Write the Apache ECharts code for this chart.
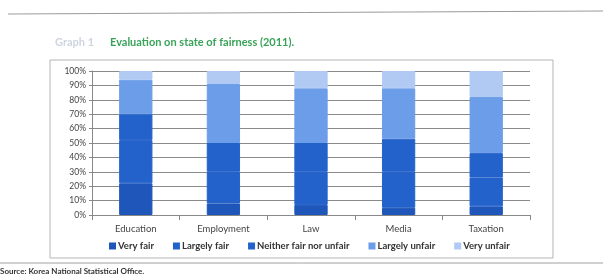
<!DOCTYPE html>
<html>
<head>
<meta charset="utf-8">
<script src="https://cdn.jsdelivr.net/npm/echarts@6/dist/echarts.min.js"></script>
<style>
  html, body { margin: 0; padding: 0; background: #fff; }
  #main { width: 603px; height: 278px; }
</style>
</head>
<body>
<div id="main"></div>
<script>
// categories and shares (%)
var categories = ['Education', 'Employment', 'Law', 'Media', 'Taxation'];
var veryFair = [22, 8, 7, 5, 6];
var largelyFair = [30, 22, 23, 25, 20];
var neither = [18, 20, 20, 23, 17];
var largelyUnfair = [24, 41, 38, 35, 39];
var veryUnfair = [6, 9, 12, 12, 18];
var yTicks = [0, 10, 20, 30, 40, 50, 60, 70, 80, 90, 100];

var chartDom = document.getElementById('main');
var myChart = echarts.init(chartDom);

function bar(name, data, color) {
  return {
    name: name,
    type: 'bar',
    stack: 'all',
    barWidth: '38%',
    data: data,
    itemStyle: { color: color, borderColor: color, borderWidth: 1 }
  };
}

var option = {
  animation: false,
  textStyle: { fontFamily: 'Lato' },
  graphic: [
    // page rule at the top
    { type: 'line', shape: { x1: 8, y1: 14, x2: 603, y2: 11 }, style: { stroke: '#9a9a9a', lineWidth: 1 } },
    // chart frame
    { type: 'rect', shape: { x: 50, y: 60, width: 503, height: 198 }, style: { fill: 'none', stroke: '#b5b5b5', lineWidth: 1 } },
    // bottom rule
    { type: 'line', shape: { x1: 0, y1: 263, x2: 603, y2: 263 }, style: { stroke: '#a0a0a0', lineWidth: 1 } },
    { type: 'text', left: 55, top: 37, style: { text: 'Graph 1', fill: '#cdd5e0', font: 'bold 11px Lato' } },
    { type: 'text', left: 110, top: 37, style: { text: 'Evaluation on state of fairness (2011).', fill: '#3aa35a', font: 'bold 11px Lato' } },
    { type: 'text', left: 0, top: 267, style: { text: 'Source: Korea National Statistical Office.', fill: '#333', font: 'bold 8px Lato' } }
  ],
  legend: {
    bottom: 22,
    left: 104,
    itemWidth: 5,
    itemHeight: 5,
    itemGap: 19,
    icon: 'rect',
    textStyle: { fontSize: 9.5, fontWeight: 'bold', color: '#333', fontFamily: 'Lato', padding: [0, 0, 0, -2] }
  },
  grid: { left: 92, right: 73, top: 71, bottom: 63 },
  xAxis: {
    type: 'category',
    data: categories,
    axisLine: { lineStyle: { color: '#888' } },
    axisTick: { show: true, alignWithLabel: false, lineStyle: { color: '#888' } },
    axisLabel: { color: '#444', fontSize: 9.5, margin: 9 }
  },
  yAxis: {
    type: 'value',
    min: yTicks[0],
    max: yTicks[yTicks.length - 1],
    interval: 10,
    axisLine: { show: true, lineStyle: { color: '#888' } },
    axisTick: { show: true, length: 3, lineStyle: { color: '#888' } },
    splitLine: { lineStyle: { color: '#8a8a8a' } },
    axisLabel: { color: '#444', fontSize: 8.5, margin: 6, formatter: '{value}%' }
  },
  series: [
    bar('Very fair', veryFair, '#1f56ba'),
    bar('Largely fair', largelyFair, '#2462cb'),
    bar('Neither fair nor unfair', neither, '#2462cb'),
    bar('Largely unfair', largelyUnfair, '#6c9de8'),
    bar('Very unfair', veryUnfair, '#b0caf3')
  ]
};

option && myChart.setOption(option);
</script>
</body>
</html>
